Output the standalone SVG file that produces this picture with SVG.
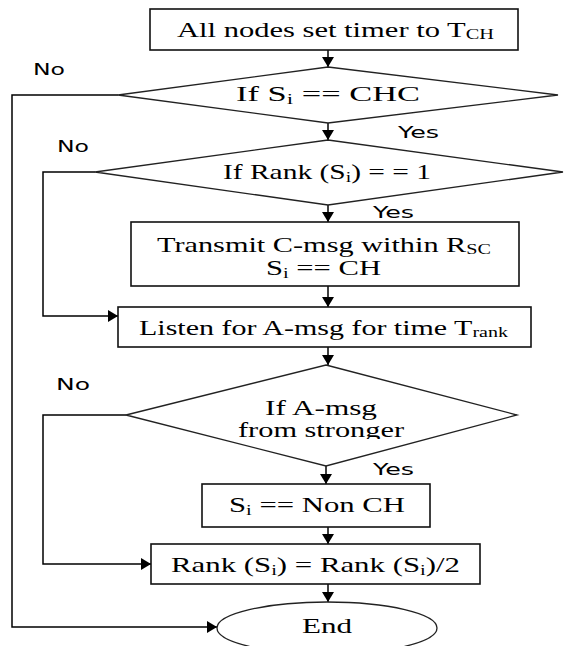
<svg xmlns="http://www.w3.org/2000/svg" width="565" height="646" viewBox="0 0 565 646">
<defs>
<marker id="ah" viewBox="0 0 10 12" refX="10" refY="6" markerWidth="10" markerHeight="12" markerUnits="userSpaceOnUse" orient="auto"><path d="M0,0 L10,6 L0,12 z" fill="#000"/></marker>
<clipPath id="cl"><rect x="0" y="0" width="565" height="439"/></clipPath>
<style>
.n{fill:#fff;stroke:#111;stroke-width:1.6}
.d{fill:#fff;stroke:#222;stroke-width:1.3}
.t{font-family:"Liberation Serif","Times New Roman",serif;font-size:21px;fill:#000}
.s{font-size:14px}
.l{font-family:"DejaVu Sans",Verdana,sans-serif;font-size:16px;fill:#000}
.c{fill:none;stroke:#000;stroke-width:1.5;marker-end:url(#ah)}
</style>
</defs>
<rect width="565" height="646" fill="#fff"/>
<g id="connectors">
<path class="c" d="M328,50 V67"/>
<path class="c" d="M328,123 V140"/>
<path class="c" d="M328,205 V222"/>
<path class="c" d="M328,286 V307"/>
<path class="c" d="M328,347 V365"/>
<path class="c" d="M326,466 V484"/>
<path class="c" d="M328,527 V544"/>
<path class="c" d="M328,584 V602"/>
<path class="c" d="M118,95 H12 V627 H217"/>
<path class="c" d="M95,172 H43 V316 H118"/>
<path class="c" d="M126,415 H43 V564 H151"/>
</g>
<g id="n1"><rect class="n" x="150" y="9" width="368" height="41"/><text class="t" x="177" y="37" textLength="317" lengthAdjust="spacingAndGlyphs">All nodes set timer to T<tspan class="s" dy="2">CH</tspan></text></g>
<g id="n2"><polygon class="d" points="328,67 558,95 328,123 118,95"/><text class="t" x="236" y="101" textLength="184" lengthAdjust="spacingAndGlyphs">If S<tspan class="s" dy="3">i</tspan><tspan dy="-3"> == CHC</tspan></text></g>
<g id="n3"><polygon class="d" points="328,140 563,172 328,205 95,172"/><text class="t" x="223" y="179" textLength="208" lengthAdjust="spacingAndGlyphs">If Rank (S<tspan class="s" dy="3">i</tspan><tspan dy="-3">) = = 1</tspan></text></g>
<g id="n4"><rect class="n" x="131" y="222" width="388" height="64"/><text class="t" x="157" y="252" textLength="334" lengthAdjust="spacingAndGlyphs">Transmit C-msg within R<tspan class="s" dy="2">SC</tspan></text><text class="t" x="266" y="275" textLength="115" lengthAdjust="spacingAndGlyphs">S<tspan class="s" dy="3">i</tspan><tspan dy="-3"> == CH</tspan></text></g>
<g id="n5"><rect class="n" x="118" y="307" width="413" height="40"/><text class="t" x="139" y="335" textLength="369" lengthAdjust="spacingAndGlyphs">Listen for A-msg for time T<tspan class="s" dy="2">rank</tspan></text></g>
<g id="n6"><polygon class="d" points="326,365 517,415 326,466 126,415"/><text class="t" x="265" y="415" textLength="112" lengthAdjust="spacingAndGlyphs">If A-msg</text><text class="t" x="238" y="437" textLength="166" lengthAdjust="spacingAndGlyphs" clip-path="url(#cl)">from stronger</text></g>
<g id="n7"><rect class="n" x="202" y="484" width="228" height="43"/><text class="t" x="229" y="512" textLength="176" lengthAdjust="spacingAndGlyphs">S<tspan class="s" dy="3">i</tspan><tspan dy="-3"> == Non CH</tspan></text></g>
<g id="n8"><rect class="n" x="151" y="544" width="329" height="40"/><text class="t" x="171" y="572" textLength="289" lengthAdjust="spacingAndGlyphs">Rank (S<tspan class="s" dy="3">i</tspan><tspan dy="-3">) = Rank (S</tspan><tspan class="s" dy="3">i</tspan><tspan dy="-3">)/2</tspan></text></g>
<g id="n9"><ellipse class="d" cx="327" cy="628" rx="110" ry="26"/><text class="t" x="302" y="633" textLength="50" lengthAdjust="spacingAndGlyphs">End</text></g>
<g id="labels">
<text class="l" x="33" y="75" textLength="32" lengthAdjust="spacingAndGlyphs">No</text>
<text class="l" x="398" y="138" textLength="41" lengthAdjust="spacingAndGlyphs">Yes</text>
<text class="l" x="57" y="152" textLength="32" lengthAdjust="spacingAndGlyphs">No</text>
<text class="l" x="373" y="218" textLength="41" lengthAdjust="spacingAndGlyphs">Yes</text>
<text class="l" x="56" y="390" textLength="34" lengthAdjust="spacingAndGlyphs">No</text>
<text class="l" x="373" y="475" textLength="41" lengthAdjust="spacingAndGlyphs">Yes</text>
</g>
</svg>
